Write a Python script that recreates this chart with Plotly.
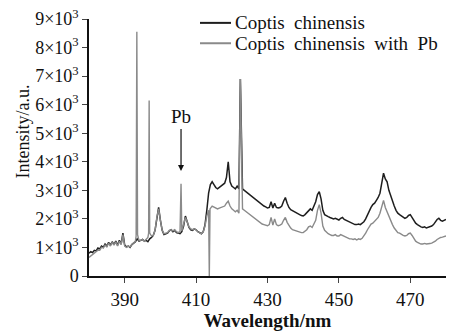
import plotly.graph_objects as go

# Coptis chinensis (black)
wl_black = [380, 380.5, 381, 381.5, 382, 382.5, 383, 383.5, 384, 384.5, 385, 385.5, 386, 386.5, 387, 387.5, 388, 388.5, 389, 389.5,
            390, 390.5, 391, 391.5, 392, 392.5, 393, 393.5, 394, 394.5, 395, 395.5, 396, 396.5, 397, 397.5, 398, 398.5, 399, 399.5,
            400, 400.5, 401, 401.5, 402, 402.5, 403, 403.5, 404, 404.5, 405, 405.5, 406, 406.5, 407, 407.5, 408, 408.5, 409, 409.5,
            410, 410.5, 411, 411.5, 412, 412.5, 413, 413.5, 414, 414.5, 415, 415.5, 416, 416.5, 417, 417.5, 418, 418.5, 419, 419.5,
            420, 420.5, 421, 421.5, 422, 422.4, 422.8, 423, 423.5, 424, 424.5, 425, 425.5, 426, 426.5, 427, 427.5, 428, 428.5, 429, 429.5,
            430, 430.5, 431, 431.5, 432, 432.5, 433, 433.5, 434, 434.5, 435, 435.5, 436, 436.5, 437, 437.5, 438, 438.5, 439, 439.5,
            440, 440.5, 441, 441.5, 442, 442.5, 443, 443.5, 444, 444.5, 445, 445.5, 446, 446.5, 447, 447.5, 448, 448.5, 449, 449.5,
            450, 450.5, 451, 451.5, 452, 452.5, 453, 453.5, 454, 454.5, 455, 455.5, 456, 456.5, 457, 457.5, 458, 458.5, 459, 459.5,
            460, 460.5, 461, 461.5, 462, 462.5, 463, 463.5, 464, 464.5, 465, 465.5, 466, 466.5, 467, 467.5, 468, 468.5, 469, 469.5,
            470, 470.5, 471, 471.5, 472, 472.5, 473, 473.5, 474, 474.5, 475, 475.5, 476, 476.5, 477, 477.5, 478, 478.5, 479, 479.5, 480]
int_black = [0.80, 0.85, 0.82, 0.90, 0.88, 0.98, 0.95, 1.05, 1.00, 1.12, 1.05, 1.18, 1.08, 1.20, 1.10, 1.22, 1.08, 1.25, 1.12, 1.50,
             1.08, 1.02, 1.05, 1.00, 1.10, 1.15, 1.20, 1.30, 1.22, 1.25, 1.28, 1.22, 1.25, 1.20, 1.30, 1.35, 1.42, 1.60, 2.10, 2.40,
             1.95, 1.60, 1.45, 1.48, 1.50, 1.58, 1.62, 1.55, 1.60, 1.52, 1.50, 1.48, 1.55, 1.75, 2.10, 1.90, 1.70, 1.62, 1.60, 1.65,
             1.62, 1.55, 1.52, 1.48, 1.55, 1.80, 2.30, 2.90, 3.20, 3.30, 3.20, 3.10, 3.05, 3.10, 3.15, 3.20, 3.25, 3.45, 4.00, 3.30,
             3.15, 3.10, 3.05, 3.15, 3.05, 6.90, 3.10, 3.05, 3.00, 2.95, 2.88, 2.82, 2.78, 2.72, 2.68, 2.62, 2.58, 2.55, 2.50, 2.45, 2.42,
             2.38, 2.40, 2.60, 2.38, 2.55, 2.40, 2.38, 2.40, 2.45, 2.62, 2.75, 2.55, 2.40, 2.32, 2.28, 2.25, 2.22, 2.18, 2.15, 2.12,
             2.10, 2.15, 2.22, 2.30, 2.35, 2.30, 2.45, 2.60, 2.85, 2.95, 2.70, 2.30, 2.15, 2.10, 2.08, 2.05, 2.02, 2.00, 2.02, 1.98,
             1.96, 2.02, 2.05, 1.98, 1.95, 1.90, 1.88, 1.85, 1.82, 1.80, 1.80, 1.82, 1.80, 1.85, 1.90, 2.00, 2.15, 2.30, 2.40, 2.50,
             2.55, 2.65, 2.75, 2.90, 3.30, 3.60, 3.40, 3.30, 3.00, 2.80, 2.65, 2.45, 2.30, 2.20, 2.15, 2.10, 2.05, 2.02, 2.05, 2.12,
             2.15, 2.05, 1.92, 1.85, 1.80, 1.75, 1.72, 1.70, 1.72, 1.68, 1.70, 1.72, 1.75, 1.80, 1.90, 1.98, 2.02, 1.95, 1.92, 1.95, 1.98]

# Coptis chinensis with Pb (gray)
wl_gray = [380, 380.5, 381, 381.5, 382, 382.5, 383, 383.5, 384, 384.5, 385, 385.5, 386, 386.5, 387, 387.5, 388, 388.5, 389, 389.5,
           390, 390.5, 391, 391.5, 392, 392.5, 393, 393.2, 393.4, 393.6, 394, 394.5, 395, 395.5, 396, 396.5, 396.7, 396.85, 397, 397.5,
           398, 398.5, 399, 399.5, 400, 400.5, 401, 401.5, 402, 402.5, 403, 403.5, 404, 404.5, 405, 405.5, 405.78, 406, 406.5, 407,
           407.5, 408, 408.5, 409, 409.5, 410, 410.5, 411, 411.5, 412, 412.5, 413, 413.5, 413.7, 413.9, 414.5, 415, 415.5, 416, 416.5,
           417, 417.5, 418, 418.5, 419, 419.5, 420, 420.5, 421, 421.5, 422, 422.4, 422.8, 423, 423.5, 424, 424.5, 425, 425.5, 426,
           426.5, 427, 427.5, 428, 428.5, 429, 429.5, 430, 430.5, 431, 431.5, 432, 432.5, 433, 433.5, 434, 434.5, 435, 435.5, 436,
           436.5, 437, 437.5, 438, 438.5, 439, 439.5, 440, 440.5, 441, 441.5, 442, 442.5, 443, 443.5, 444, 444.5, 445, 445.5, 446,
           446.5, 447, 447.5, 448, 448.5, 449, 449.5, 450, 450.5, 451, 451.5, 452, 452.5, 453, 453.5, 454, 454.5, 455, 455.5, 456,
           456.5, 457, 457.5, 458, 458.5, 459, 459.5, 460, 460.5, 461, 461.5, 462, 462.5, 463, 463.5, 464, 464.5, 465, 465.5, 466,
           466.5, 467, 467.5, 468, 468.5, 469, 469.5, 470, 470.5, 471, 471.5, 472, 472.5, 473, 473.5, 474, 474.5, 475, 475.5, 476,
           476.5, 477, 477.5, 478, 478.5, 479, 479.5, 480]
int_gray = [0.65, 0.70, 0.72, 0.80, 0.82, 0.90, 0.90, 1.00, 0.98, 1.08, 1.02, 1.15, 1.05, 1.18, 1.08, 1.20, 1.05, 1.22, 1.10, 1.45,
            1.05, 1.00, 1.05, 1.02, 1.10, 1.15, 1.22, 1.40, 8.55, 1.45, 1.25, 1.25, 1.28, 1.22, 1.28, 1.35, 1.50, 6.15, 1.50, 1.40,
            1.42, 1.60, 2.05, 2.35, 1.95, 1.60, 1.48, 1.50, 1.52, 1.60, 1.62, 1.58, 1.62, 1.55, 1.52, 1.55, 3.23, 1.58, 1.78, 2.05,
            1.90, 1.72, 1.65, 1.62, 1.65, 1.62, 1.55, 1.50, 1.48, 1.55, 1.75, 2.10, 2.30, 0.0, 2.35, 2.45, 2.42, 2.38, 2.35, 2.38,
            2.40, 2.42, 2.45, 2.55, 2.62, 2.45, 2.35, 2.30, 2.25, 2.30, 2.20, 6.90, 2.40, 2.35, 2.30, 2.25, 2.20, 2.18, 2.12, 2.05,
            2.00, 1.95, 1.90, 1.85, 1.82, 1.80, 1.78, 1.76, 1.80, 2.05, 1.78, 2.00, 1.80, 1.76, 1.78, 1.82, 1.95, 2.05, 1.88, 1.75,
            1.68, 1.62, 1.60, 1.58, 1.55, 1.55, 1.52, 1.52, 1.58, 1.62, 1.72, 1.75, 1.70, 1.85, 1.95, 2.30, 2.50, 2.20, 1.75, 1.60,
            1.52, 1.48, 1.45, 1.42, 1.42, 1.45, 1.40, 1.40, 1.45, 1.42, 1.38, 1.35, 1.32, 1.30, 1.30, 1.28, 1.30, 1.26, 1.30, 1.28,
            1.32, 1.40, 1.50, 1.62, 1.75, 1.82, 1.85, 1.92, 2.00, 2.05, 2.20, 2.45, 2.65, 2.40, 2.25, 2.05, 1.90, 1.80, 1.68, 1.58,
            1.52, 1.50, 1.45, 1.42, 1.40, 1.42, 1.48, 1.50, 1.42, 1.30, 1.22, 1.18, 1.15, 1.12, 1.12, 1.14, 1.12, 1.12, 1.14, 1.15,
            1.18, 1.22, 1.28, 1.32, 1.35, 1.36, 1.38, 1.40]

series_names = ["Coptis chinensis", "Coptis chinensis with Pb"]
series_colors = ["#1e1e1e", "#8a8a8a"]
x_ticks = [390, 410, 430, 450, 470]
y_tick_vals = [0, 1000, 2000, 3000, 4000, 5000, 6000, 7000, 8000, 9000]
y_tick_text = ["0"] + [f"{k}×10<sup>3</sup>" for k in range(1, 10)]
pb_line = 405.78
pb_peak = 3230

FONT = "Liberation Serif"

fig = go.Figure()
fig.add_trace(go.Scatter(x=wl_black, y=[v * 1000 for v in int_black], mode="lines",
                         name=series_names[0], line=dict(color=series_colors[0], width=1.5), showlegend=False))
fig.add_trace(go.Scatter(x=wl_gray, y=[v * 1000 for v in int_gray], mode="lines",
                         name=series_names[1], line=dict(color=series_colors[1], width=1.4), showlegend=False))

# Legend drawn as line samples + labels (paper coordinates)
W, H, L, R, T, B = 453, 333, 89, 7, 15, 53
pw, ph = W - L - R, H - T - B
def px(x):
    return (x - L) / pw
def py(y):
    return (H - B - y) / ph
for i, (nm, col) in enumerate(zip(series_names, series_colors)):
    yy = 19 + i * 21
    label = nm.replace(" ", " \u00a0")
    fig.add_shape(type="line", xref="paper", yref="paper", x0=px(200), x1=px(231), y0=py(yy), y1=py(yy),
                  line=dict(color=col, width=2))
    fig.add_annotation(xref="paper", yref="paper", x=px(233), y=py(yy), xanchor="left", yanchor="middle",
                       text=label, showarrow=False, font=dict(family=FONT, size=19, color="#111"))

# Y axis title
fig.add_annotation(xref="paper", yref="paper", x=px(23), y=py(131), text="Intensity/a.u.", textangle=-90,
                   showarrow=False, xanchor="center", yanchor="middle", font=dict(family=FONT, size=18, color="#111"))

fig.add_annotation(x=pb_line, y=pb_peak + 450, ax=0, ay=-54, text="Pb", showarrow=True,
                   arrowhead=2, arrowsize=1, arrowwidth=1.2, arrowcolor="#111",
                   font=dict(family=FONT, size=19, color="#111"))

fig.update_layout(
    width=W, height=H,
    margin=dict(l=L, r=R, t=T, b=B),
    paper_bgcolor="white", plot_bgcolor="white",
    font=dict(family=FONT, size=18, color="#111"),
    showlegend=False,
    xaxis=dict(range=[380, 480], tickvals=x_ticks, ticks="outside", ticklen=5, tickwidth=1.2,
               showline=True, linecolor="#111", linewidth=1.5, showgrid=False, zeroline=False,
               tickfont=dict(family=FONT, size=19),
               title=dict(text="<b>Wavelength/nm</b>", font=dict(family=FONT, size=19), standoff=3)),
    yaxis=dict(range=[0, 9000], tickvals=y_tick_vals, ticktext=y_tick_text, ticks="outside", ticklen=5,
               tickwidth=1.2, showline=True, linecolor="#111", linewidth=1.5, showgrid=False, zeroline=False,
               tickfont=dict(family=FONT, size=18)),
)

fig.write_html("out.html")
